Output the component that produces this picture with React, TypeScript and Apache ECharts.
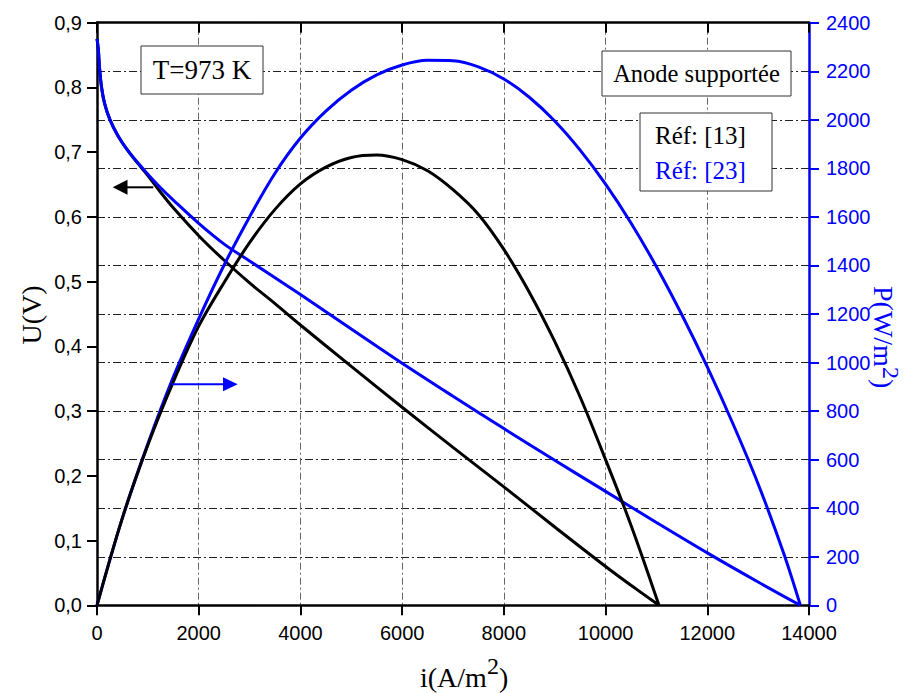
import React, { useEffect, useRef } from 'react';
import * as echarts from 'echarts';

// ---- Data ----
// Réf [13] (black): U(V) vs i(A/m2)
const currentU13 = [0, 25, 50, 90, 150, 250, 400, 600, 800, 1000, 1250, 1500, 2000, 2500, 3000, 3500, 4000, 5000, 6000, 7000, 8000, 9000, 10000, 10500, 11050];
const voltage13 = [0.875, 0.86, 0.83, 0.8, 0.775, 0.751, 0.727, 0.703, 0.683, 0.664, 0.638, 0.614, 0.571, 0.533, 0.498, 0.466, 0.433, 0.369, 0.306, 0.244, 0.183, 0.121, 0.06, 0.031, 0];
// Réf [13] (black): P(W/m2) vs i(A/m2)
const currentP13 = [0, 500, 1000, 1500, 2000, 2500, 3000, 3500, 4000, 4500, 5000, 5500, 6000, 6500, 7000, 7500, 8000, 8500, 9000, 9500, 10000, 10500, 11050];
const power13 = [0, 360, 660, 920, 1150, 1330, 1494, 1631, 1736, 1805, 1845, 1855, 1836, 1790, 1712, 1610, 1466, 1290, 1087, 858, 600, 330, 0];
// Réf [23] (blue): U(V) vs i(A/m2)
const currentU23 = [0, 25, 50, 90, 150, 250, 400, 600, 800, 1000, 1250, 1500, 2000, 2500, 3000, 4000, 5000, 6000, 7000, 8000, 9000, 10000, 11000, 12000, 13000, 13830];
const voltage23 = [0.875, 0.86, 0.83, 0.8, 0.775, 0.751, 0.727, 0.703, 0.684, 0.666, 0.645, 0.626, 0.59, 0.558, 0.532, 0.48, 0.427, 0.374, 0.323, 0.273, 0.224, 0.176, 0.128, 0.081, 0.036, 0];
// Réf [23] (blue): P(W/m2) vs i(A/m2)
const currentP23 = [0, 500, 1000, 1500, 2000, 2500, 3000, 3500, 4000, 4500, 5000, 5500, 6000, 6500, 7000, 7500, 8000, 8500, 9000, 9500, 10000, 10500, 11000, 11500, 12000, 12500, 13000, 13500, 13830];
const power23 = [0, 360, 665, 940, 1180, 1402, 1600, 1780, 1925, 2036, 2122, 2185, 2226, 2245, 2243, 2218, 2168, 2093, 1995, 1875, 1735, 1575, 1395, 1197, 982, 750, 500, 215, 0];

const seriesNames = ['Réf: [13]', 'Réf: [23]'];
const annotationTexts = ['T=973 K', 'Anode supportée'];

const SANS = "'Liberation Sans', Arial, Helvetica, sans-serif";
const SERIF = "'Liberation Serif', 'Times New Roman', Times, serif";
const BLUE = '#0000ff';

const zip = (xs: number[], ys: number[]) => xs.map((x, k) => [x, ys[k]]);

export default function App() {
  const ref = useRef<HTMLDivElement>(null);

  useEffect(() => {
    if (!ref.current) return;
    const chart = echarts.init(ref.current, undefined, { renderer: 'svg' });

    const lineSeries = (name: string, xs: number[], ys: number[], yIdx: number, color: string, z: number) => ({
      name,
      type: 'line',
      xAxisIndex: 0,
      yAxisIndex: yIdx,
      data: zip(xs, ys),
      showSymbol: false,
      symbol: 'none',
      smooth: 0.35,
      lineStyle: { color, width: 3 },
      itemStyle: { color },
      z,
    });

    const supRich = (color: string, raise: number) => ({
      m: { fontSize: 28, fontFamily: SERIF, fill: color, color, verticalAlign: 'bottom' },
      s: { fontSize: 24, fontFamily: SERIF, fill: color, color, verticalAlign: 'top', padding: [0, 0, raise, 0] },
    });

    const option: any = {
      animation: false,
      backgroundColor: '#ffffff',
      grid: { left: 97, right: 97, top: 22.7, bottom: 87.7, containLabel: false },
      xAxis: [
        {
          type: 'value',
          position: 'bottom',
          min: 0,
          max: 14000,
          interval: 2000,
          axisLine: { show: true, onZero: false, lineStyle: { color: '#000', width: 2.5 } },
          axisTick: { show: true, inside: false, length: 10, lineStyle: { color: '#000', width: 2 } },
          axisLabel: { color: '#000', fontSize: 20, fontFamily: SANS, margin: 18, formatter: (v: number) => String(v) },
          splitLine: { show: true, lineStyle: { color: '#666', width: 1, type: [7, 3, 2, 3] } },
        },
        {
          type: 'value',
          position: 'top',
          min: 0,
          max: 14000,
          interval: 2000,
          axisLine: { show: true, onZero: false, lineStyle: { color: '#000', width: 2.5 } },
          axisTick: { show: true, inside: true, length: 10, lineStyle: { color: '#000', width: 2 } },
          axisLabel: { show: false },
          splitLine: { show: false },
        },
      ],
      yAxis: [
        {
          type: 'value',
          position: 'left',
          min: 0,
          max: 0.9,
          interval: 0.1,
          axisLine: { show: true, onZero: false, lineStyle: { color: '#000', width: 2.5 } },
          axisTick: { show: true, inside: false, length: 10, lineStyle: { color: '#000', width: 2 } },
          axisLabel: {
            color: '#000',
            fontSize: 20,
            fontFamily: SANS,
            margin: 15,
            formatter: (v: number) => v.toFixed(1).replace('.', ','),
          },
          splitLine: { show: false },
        },
        {
          type: 'value',
          position: 'right',
          min: 0,
          max: 2400,
          interval: 200,
          axisLine: { show: true, onZero: false, lineStyle: { color: BLUE, width: 2.5 } },
          axisTick: { show: true, inside: false, length: 10, lineStyle: { color: BLUE, width: 2 } },
          axisLabel: { color: BLUE, fontSize: 20, fontFamily: SANS, margin: 17, formatter: (v: number) => String(v) },
          splitLine: { show: true, lineStyle: { color: '#222', width: 1, type: [8, 3, 2, 3] } },
        },
      ],
      series: [
        lineSeries(seriesNames[0], currentU13, voltage13, 0, '#000', 3),
        lineSeries(seriesNames[1], currentU23, voltage23, 0, BLUE, 4),
        lineSeries(seriesNames[1], currentP23, power23, 1, BLUE, 5),
        lineSeries(seriesNames[0], currentP13, power13, 1, '#000', 6),
      ],
      graphic: [
        // axis names
        {
          type: 'text',
          x: 31,
          y: 315,
          rotation: Math.PI / 2,
          z: 100,
          style: { text: 'U(V)', fontSize: 28, fontFamily: SERIF, fill: '#000', align: 'center', verticalAlign: 'middle' },
        },
        {
          type: 'text',
          x: 420,
          y: 691,
          z: 100,
          style: { text: '{m|i(A/m}{s|2}{m|)}', rich: supRich('#000', 13), align: 'left', verticalAlign: 'bottom' },
        },
        {
          type: 'text',
          x: 869,
          y: 286,
          rotation: -Math.PI / 2,
          z: 100,
          style: { text: '{m|P(W/m}{s|2}{m|)}', rich: supRich(BLUE, 10), align: 'left', verticalAlign: 'bottom' },
        },
        // T box
        {
          type: 'rect',
          z: 100,
          shape: { x: 141, y: 46, width: 122, height: 48 },
          style: { fill: '#fff', stroke: '#333', lineWidth: 1 },
        },
        {
          type: 'text',
          x: 202,
          y: 70,
          z: 101,
          style: { text: annotationTexts[0], fontSize: 27, fontFamily: SERIF, fill: '#000', align: 'center', verticalAlign: 'middle' },
        },
        // Anode box
        {
          type: 'rect',
          z: 100,
          shape: { x: 602, y: 51, width: 189, height: 45 },
          style: { fill: '#fff', stroke: '#333', lineWidth: 1 },
        },
        {
          type: 'text',
          x: 696.5,
          y: 73.5,
          z: 101,
          style: { text: annotationTexts[1], fontSize: 24.5, fontFamily: SERIF, fill: '#000', align: 'center', verticalAlign: 'middle' },
        },
        // legend box
        {
          type: 'rect',
          z: 100,
          shape: { x: 640, y: 113, width: 132, height: 78 },
          style: { fill: '#fff', stroke: '#333', lineWidth: 1 },
        },
        {
          type: 'text',
          x: 655,
          y: 135,
          z: 101,
          style: { text: seriesNames[0], fontSize: 25, fontFamily: SERIF, fill: '#000', align: 'left', verticalAlign: 'middle' },
        },
        {
          type: 'text',
          x: 655,
          y: 170,
          z: 101,
          style: { text: seriesNames[1], fontSize: 25, fontFamily: SERIF, fill: BLUE, align: 'left', verticalAlign: 'middle' },
        },
        // arrows
        {
          type: 'line',
          z: 100,
          shape: { x1: 126, y1: 187.3, x2: 153.3, y2: 187.3 },
          style: { stroke: '#000', lineWidth: 2 },
        },
        {
          type: 'polygon',
          z: 100,
          shape: { points: [[112.7, 187.3], [127.5, 179.8], [127.5, 194.8]] },
          style: { fill: '#000' },
        },
        {
          type: 'line',
          z: 100,
          shape: { x1: 171.7, y1: 384.3, x2: 224, y2: 384.3 },
          style: { stroke: BLUE, lineWidth: 2 },
        },
        {
          type: 'polygon',
          z: 100,
          shape: { points: [[237.7, 384.3], [223, 377.3], [223, 391.3]] },
          style: { fill: BLUE },
        },
      ],
    };

    chart.setOption(option);
    return () => {
      chart.dispose();
    };
  }, []);

  return (
    <div
      ref={ref}
      style={{ position: 'absolute', left: 0, top: 0, width: 906, height: 693, background: '#fff' }}
    />
  );
}
